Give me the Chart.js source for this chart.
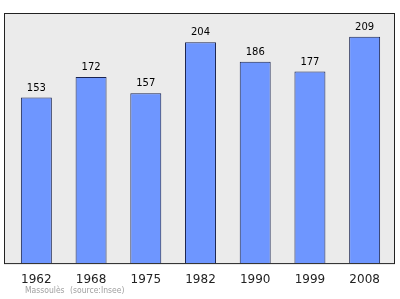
<!DOCTYPE html>
<html>
<head>
<meta charset="utf-8">
<script src="https://cdn.jsdelivr.net/npm/chart.js@4"></script>
<style>
  html, body { margin: 0; padding: 0; background: #fff; }
  #wrap { width: 400px; height: 299px; }
</style>
</head>
<body>
<div id="wrap"><canvas id="chart" width="400" height="299"></canvas></div>
<script>
// population by census year
let years = ['1962', '1968', '1975', '1982', '1990', '1999', '2008']
let population = [153, 172, 157, 204, 186, 177, 209]
let sourceNote = ['Massoulès', '(source:Insee)']

// grey frame behind the bars + value labels on top
let framePlugin = {
    id: 'frame',
    beforeDatasetsDraw(chart) {
        let ctx = chart.ctx
        let a = chart.chartArea
        ctx.save()
        ctx.fillStyle = '#ebebeb'
        ctx.fillRect(4, a.top, 391, a.bottom - a.top)
        ctx.restore()
    },
    afterDatasetsDraw(chart) {
        let ctx = chart.ctx
        let a = chart.chartArea
        ctx.save()
        ctx.strokeStyle = '#222'
        ctx.lineWidth = 1
        ctx.strokeRect(4.5, a.top + 0.5, 390, a.bottom - a.top - 0.5)

        let meta = chart.getDatasetMeta(0)
        ctx.fillStyle = '#000'
        ctx.font = '10px "DejaVu Sans"'
        ctx.textAlign = 'center'
        ctx.textBaseline = 'alphabetic'
        meta.data.forEach((bar, i) => {
            ctx.fillText(population[i], bar.x, bar.y - 7)
        })

        ctx.fillStyle = '#a0a0a0'
        ctx.font = '8.5px "DejaVu Sans Condensed", "DejaVu Sans"'
        ctx.textAlign = 'left'
        ctx.textBaseline = 'middle'
        ctx.fillText(sourceNote[0], 25, 291)
        ctx.fillText(sourceNote[1], 70, 291)
        ctx.restore()
    }
}

let ctx = document.getElementById('chart').getContext('2d')
let chart = new Chart(ctx, {
    type: 'bar',
    data: {
        labels: years,
        datasets: [{
            data: population,
            backgroundColor: '#6e96ff',
            borderColor: '#1a2450',
            borderWidth: 1,
            borderSkipped: 'bottom',
            barPercentage: 0.566,
            categoryPercentage: 1
        }]
    },
    options: {
        responsive: false,
        animation: false,
        layout: { padding: { left: 9, right: 8, top: 13, bottom: 3 } },
        plugins: {
            legend: { display: false },
            tooltip: { enabled: false }
        },
        scales: {
            x: {
                grid: { display: false, drawTicks: false },
                border: { display: false },
                ticks: {
                    color: '#222',
                    padding: 9,
                    font: { family: 'DejaVu Sans', size: 12 }
                }
            },
            y: {
                display: false,
                min: 0,
                max: 231
            }
        }
    },
    plugins: [framePlugin]
})
</script>
</body>
</html>
